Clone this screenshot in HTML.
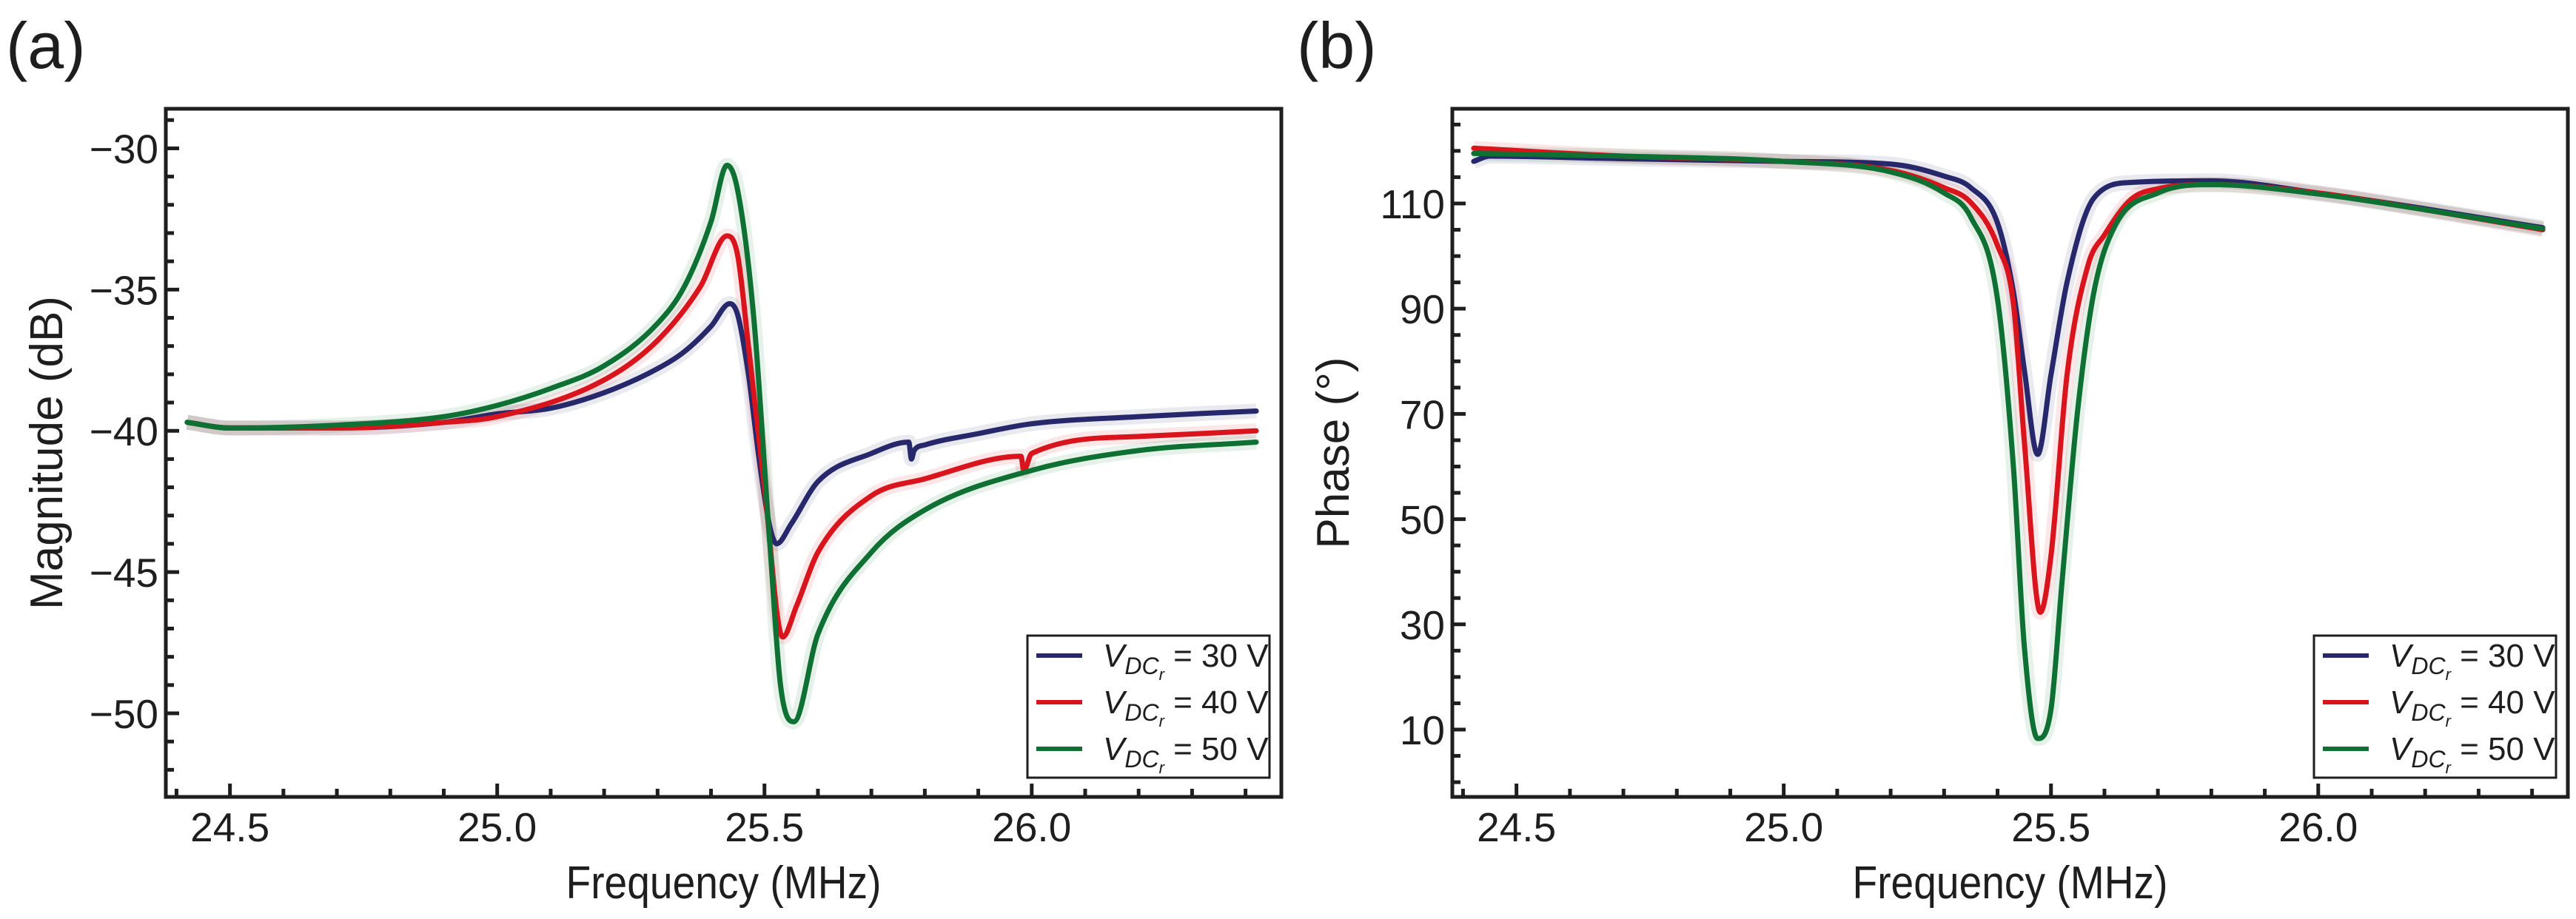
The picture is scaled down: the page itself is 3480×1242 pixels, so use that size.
<!DOCTYPE html>
<html><head><meta charset="utf-8"><style>
html,body{margin:0;padding:0;background:#fff;}
svg{display:block;font-family:"Liberation Sans",sans-serif;}
</style></head><body>
<svg id="fig" width="3480" height="1242" viewBox="0 0 3480 1242" xmlns="http://www.w3.org/2000/svg">
<text x="8" y="92" font-size="88" fill="#1e1e1e">(a)</text>
<text x="1752" y="92" font-size="88" fill="#1e1e1e">(b)</text>
<g id="pa"></g>
<g id="pb"></g>
</svg>
<script>
// Panel (a) magnitude data
const magFreqBlue = [24.42,24.5,24.7,24.9,25.0,25.1,25.2,25.3,25.35,25.4,25.435,25.45,25.47,25.49,25.51,25.523,25.55,25.6,25.7,25.77,25.775,25.78,25.8,25.9,26.0,26.2,26.42];
const magBlue =     [-39.7,-39.9,-39.9,-39.7,-39.4,-39.2,-38.65,-37.8,-37.2,-36.3,-35.5,-35.9,-38.0,-41.0,-43.4,-44.0,-43.3,-41.8,-40.8,-40.4,-41.0,-40.7,-40.5,-40.1,-39.75,-39.5,-39.3];
const magFreqRed = [24.42,24.5,24.7,24.9,25.0,25.2,25.3,25.38,25.43,25.45,25.47,25.5,25.534,25.56,25.6,25.7,25.8,25.98,25.985,26.0,26.2,26.42];
const magRed =     [-39.7,-39.9,-39.9,-39.7,-39.5,-38.2,-36.8,-34.9,-33.1,-33.8,-37.0,-42.0,-47.3,-46.2,-44.3,-42.3,-41.7,-40.9,-41.4,-40.8,-40.2,-40.0];
const magFreqGreen = [24.42,24.5,24.7,24.9,25.0,25.1,25.2,25.3,25.35,25.4,25.43,25.45,25.48,25.51,25.53,25.555,25.6,25.7,25.8,26.0,26.2,26.42];
const magGreen =     [-39.7,-39.9,-39.8,-39.5,-39.1,-38.5,-37.7,-36.2,-34.9,-32.6,-30.6,-31.5,-36.0,-44.0,-49.0,-50.3,-47.2,-44.3,-42.8,-41.4,-40.7,-40.4];
// Panel (b) phase data
const phFreqBlue = [24.42,24.45,24.7,25.0,25.2,25.3,25.35,25.4,25.43,25.45,25.475,25.5,25.53,25.58,25.65,25.8,26.0,26.2,26.42];
const phBlue =     [118,119,118.5,118,117.5,115.2,113,106.3,93,78.5,62.3,77.4,95,111,114,114.3,112,109,105.4];
const phFreqRed = [24.42,24.7,25.0,25.2,25.3,25.35,25.4,25.43,25.45,25.48,25.5,25.53,25.57,25.6,25.65,25.7,25.8,26.0,26.2,26.42];
const phRed =     [120.5,119,118,116.3,113,110.2,102,90.7,65,32.3,43,77.4,98.5,104,110.8,112.8,113.6,112,108.8,105];
const phFreqGreen = [24.42,24.7,25.0,25.2,25.3,25.35,25.4,25.43,25.45,25.475,25.5,25.52,25.55,25.58,25.62,25.7,25.8,26.0,26.2,26.42];
const phGreen =     [119.5,119,118,116,112,107.4,91.8,59.5,26,8.3,13.8,37.3,70.7,93,105.8,112,113.6,111.8,108.8,105.2];
const xTicks = [24.5,25.0,25.5,26.0];
const magTicks = [-30,-35,-40,-45,-50];
const phTicks = [10,30,50,70,90,110];
const legendLabels = ["30","40","50"];
const colors = ["#27276b","#d9141c","#0e7133"];

const NS="http://www.w3.org/2000/svg";
function mk(tag,attrs,parent){const e=document.createElementNS(NS,tag);for(const k in attrs)e.setAttribute(k,attrs[k]);parent.appendChild(e);return e;}

// monotone cubic path through pixel points
function monoPath(P){
  const n=P.length, d=[], m=[];
  for(let i=0;i<n-1;i++){d.push((P[i+1][1]-P[i][1])/(P[i+1][0]-P[i][0]));}
  m[0]=d[0]; m[n-1]=d[n-2];
  for(let i=1;i<n-1;i++){ m[i]=(d[i-1]*d[i]<=0)?0:(d[i-1]+d[i])/2; }
  for(let i=0;i<n-1;i++){
    if(d[i]===0){m[i]=0;m[i+1]=0;continue;}
    const a=m[i]/d[i], b=m[i+1]/d[i], s=a*a+b*b;
    if(s>9){const t=3/Math.sqrt(s);m[i]=t*a*d[i];m[i+1]=t*b*d[i];}
  }
  let s="M"+P[0][0].toFixed(1)+","+P[0][1].toFixed(1);
  for(let i=0;i<n-1;i++){
    const h=(P[i+1][0]-P[i][0])/3;
    s+=" C"+(P[i][0]+h).toFixed(1)+","+(P[i][1]+m[i]*h).toFixed(1)+" "+(P[i+1][0]-h).toFixed(1)+","+(P[i+1][1]-m[i+1]*h).toFixed(1)+" "+P[i+1][0].toFixed(1)+","+P[i+1][1].toFixed(1);
  }
  return s;
}

function panel(g,cfg){
  const {L,R,T,B,x0,x1,y0,y1}=cfg;
  const sx=v=>L+(v-x0)/(x1-x0)*(R-L);
  const sy=v=>B-(v-y0)/(y1-y0)*(B-T);
  cfg.series.forEach((s,i)=>{
    const d=monoPath(s.f.map((f,j)=>[sx(f),sy(s.v[j])]));
    const band=mk("path",{d:d,fill:"none",stroke:colors[i],"stroke-width":20,"stroke-opacity":0.1,"stroke-linejoin":"round"},g);
    
    
  });
  cfg.series.forEach((s,i)=>{
    const d=monoPath(s.f.map((f,j)=>[sx(f),sy(s.v[j])]));
    const l=mk("path",{d:d,fill:"none",stroke:colors[i],"stroke-width":7,"stroke-linejoin":"round","stroke-linecap":"round"},g);
    
    
  });
  const fr=mk("rect",{x:L,y:T,width:R-L,height:B-T,fill:"none",stroke:"#1e1e1e","stroke-width":5},g);
  
  
  for(let k=Math.ceil(x0*10);k<=x1*10;k++){
    const v=k/10, major=Math.abs(v*2-Math.round(v*2))<1e-6;
    mk("line",{x1:sx(v),x2:sx(v),y1:B,y2:B-(major?18:11),stroke:"#1e1e1e","stroke-width":5},g);
  }
  xTicks.forEach(v=>{
    const t=mk("text",{x:sx(v),y:B+60,"font-size":55,"text-anchor":"middle",fill:"#1e1e1e"},g);
    t.textContent=v.toFixed(1);
    
    
  });
  for(let v=Math.ceil(y0/cfg.minor)*cfg.minor;v<=y1;v+=cfg.minor){
    const major=cfg.ticks.some(t=>Math.abs(t-v)<1e-6);
    mk("line",{x1:L,x2:L+(major?18:11),y1:sy(v),y2:sy(v),stroke:"#1e1e1e","stroke-width":5},g);
  }
  cfg.ticks.forEach(v=>{
    const t=mk("text",{x:L-10,y:sy(v)+20,"font-size":55,"text-anchor":"end",fill:"#1e1e1e"},g);
    t.textContent=v<0?"\u2212"+(-v):String(v);
    
    
  });
  const xt=mk("text",{x:(L+R)/2,y:1214,"font-size":62,"text-anchor":"middle",fill:"#1e1e1e",textLength:426,lengthAdjust:"spacingAndGlyphs"},g);
  xt.textContent="Frequency (MHz)";
  
  
  const cy=(T+B)/2;
  const yt=mk("text",{x:0,y:0,"font-size":62,"text-anchor":"middle",fill:"#1e1e1e",transform:`translate(${L-140},${cy}) rotate(-90)`},g);
  yt.textContent=cfg.ytitle;
  
  
  const lx=R-343, ly=859;
  const lg=mk("g",{},g);
  
  
  mk("rect",{x:lx,y:ly,width:327,height:192,fill:"#fff",stroke:"#1e1e1e","stroke-width":3},lg);
  legendLabels.forEach((lab,i)=>{
    const yy=ly+27+i*63;
    const e=mk("g",{},lg);
    
    
    mk("line",{x1:lx+12,x2:lx+74,y1:yy,y2:yy,stroke:colors[i],"stroke-width":6},e);
    const t=mk("text",{x:lx+102,y:yy+15,"font-size":44,fill:"#1e1e1e"},e);
    t.innerHTML=`<tspan font-style="italic">V</tspan><tspan font-style="italic" font-size="32" dy="10">DC</tspan><tspan font-style="italic" font-size="22" dy="8">r</tspan><tspan dy="-18"> = ${lab} V</tspan>`;
  });
}
panel(document.getElementById("pa"),{L:224,R:1731,T:147,B:1077,x0:24.38,x1:26.467,y0:-52.96,y1:-28.6,minor:1,ticks:magTicks,ytitle:"Magnitude (dB)",
  series:[{f:magFreqBlue,v:magBlue},{f:magFreqRed,v:magRed},{f:magFreqGreen,v:magGreen}]});
panel(document.getElementById("pb"),{L:1962,R:3469,T:147,B:1077,x0:24.38,x1:26.467,y0:-2.8,y1:128,minor:5,ticks:phTicks,ytitle:"Phase (\u00b0)",
  series:[{f:phFreqBlue,v:phBlue},{f:phFreqRed,v:phRed},{f:phFreqGreen,v:phGreen}]});
</script>
</body></html>
